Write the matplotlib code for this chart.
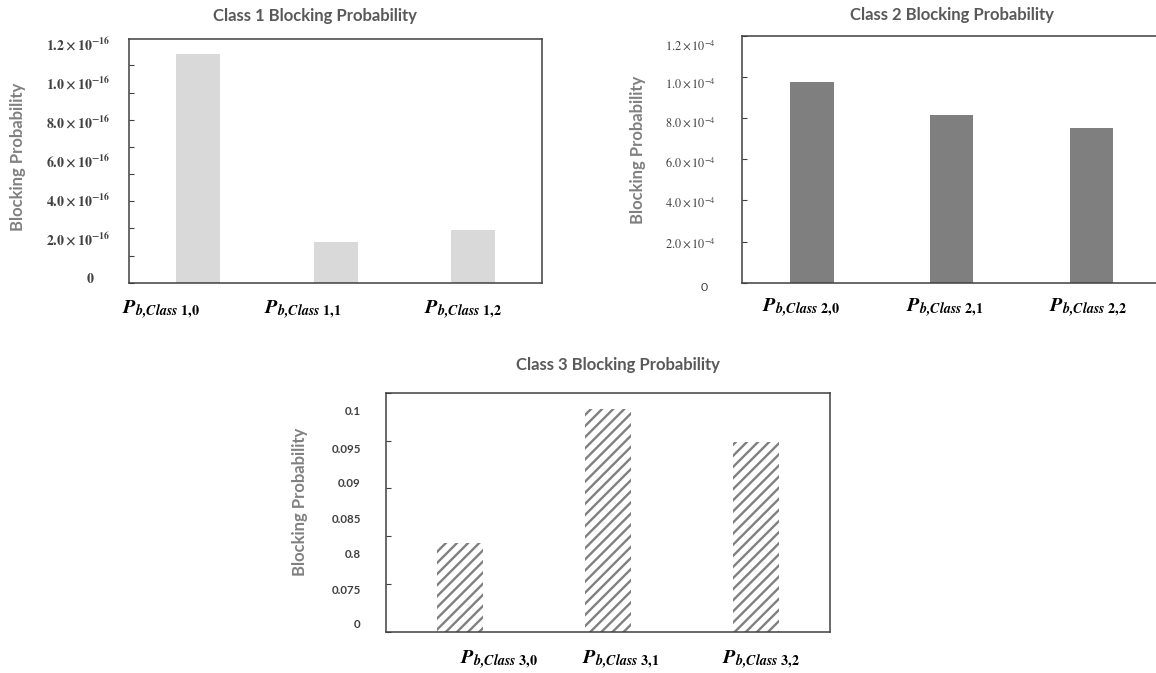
import matplotlib
matplotlib.use("Agg")
import matplotlib.pyplot as plt
import numpy as np
from matplotlib.ticker import MultipleLocator, FixedLocator
from matplotlib.transforms import blended_transform_factory, offset_copy

plt.rcParams["font.family"] = ["Lato", "DejaVu Sans"]
plt.rcParams["mathtext.fontset"] = "stix"
plt.rcParams["hatch.linewidth"] = 1.7

TITLE_GRAY = "#595959"
LABEL_GRAY = "#808080"
INK = "#404040"

# --- data -------------------------------------------------------------
class1_names = ["1,0", "1,1", "1,2"]
class1_values = [1.18e-16, 0.208e-16, 0.272e-16]
class1_label_values = [0, 0.2e-16, 0.4e-16, 0.6e-16, 0.8e-16, 1.0e-16, 1.2e-16]
class1_label_texts = [r"$\mathbf{0}$", r"$\mathbf{2.0\times10^{-16}}$", r"$\mathbf{4.0\times10^{-16}}$",
                      r"$\mathbf{6.0\times10^{-16}}$", r"$\mathbf{8.0\times10^{-16}}$",
                      r"$\mathbf{1.0\times10^{-16}}$", r"$\mathbf{1.2\times10^{-16}}$"]

class2_names = ["2,0", "2,1", "2,2"]
class2_values = [0.975e-4, 0.816e-4, 0.751e-4]
class2_label_values = [0, 0.2e-4, 0.4e-4, 0.6e-4, 0.8e-4, 1.0e-4, 1.2e-4]
class2_label_texts = ["0", r"$2.0\times10^{-4}$", r"$4.0\times10^{-4}$", r"$6.0\times10^{-4}$",
                      r"$8.0\times10^{-4}$", r"$1.0\times10^{-4}$", r"$1.2\times10^{-4}$"]

class3_names = ["3,0", "3,1", "3,2"]
class3_values = [0.0816, 0.1004, 0.0958]
class3_ylim = (0.0692, 0.1027)
class3_label_values = [0.0692, 0.075, 0.08, 0.085, 0.09, 0.095, 0.1]
class3_label_texts = ["0", "0.075", "0.8", "0.085", "0.09", "0.095", "0.1"]


def xname(pair):
    pair = pair.replace(",", "{,}")
    return r"$\mathbfit{P}_{\mathbfit{b{,}Class}\ \mathbf{" + pair + "}}$"


def draw_panel(ax, names, values, title, bar_kw, ylim, label_values, label_texts,
               label_kw, label_dy, label_gap, zero_gap, xlabel_dx, xlabel_dy,
               title_dx, title_dy, ylabel_xy):
    x = np.arange(len(values))
    ax.bar(x, values, **bar_kw)
    ax.set_xlim(-0.5, len(values) - 0.5)
    ax.set_ylim(*ylim)
    for s in ax.spines.values():
        s.set_color(INK)
        s.set_linewidth(1.1)
    ax.tick_params(axis="x", length=0, labelbottom=False)
    ax.tick_params(axis="y", direction="in", length=3.5, width=0.8, color=INK,
                   labelleft=False)

    # tick labels sit a little off the tick marks, as in the original
    ytrans = blended_transform_factory(ax.transAxes, ax.transData)
    for i, (v, t, dy) in enumerate(zip(label_values, label_texts, label_dy)):
        if i == 0:
            tr = offset_copy(ytrans, fig=ax.figure, x=-zero_gap, y=-dy, units="dots")
            ax.text(0, v, t, transform=tr, ha="center", va="center", **label_kw)
        else:
            tr = offset_copy(ytrans, fig=ax.figure, x=-label_gap, y=-dy, units="dots")
            ax.text(0, v, t, transform=tr, ha="right", va="center", **label_kw)

    xtrans = blended_transform_factory(ax.transData, ax.transAxes)
    for i, (n, dx) in enumerate(zip(names, xlabel_dx)):
        tr = offset_copy(xtrans, fig=ax.figure, x=dx, y=-xlabel_dy, units="dots")
        ax.text(i, 0, xname(n), transform=tr, ha="center", va="center",
                fontsize=14.5, color="black")

    tr = offset_copy(ax.transAxes, fig=ax.figure, x=title_dx, y=title_dy, units="dots")
    ax.text(0.5, 1, title, transform=tr, ha="center", va="center",
            fontsize=12, fontweight="bold", color=TITLE_GRAY)

    ax.set_ylabel("Blocking Probability", fontsize=12, fontweight="bold",
                  color=LABEL_GRAY, va="center")
    ax.yaxis.set_label_coords(*ylabel_xy)


fig = plt.figure(figsize=(11.56, 6.73), dpi=100)

ax1 = fig.add_axes([0.1119, 0.5799, 0.3570, 0.3622])
ax1.yaxis.set_major_locator(MultipleLocator(0.14e-16))
draw_panel(ax1, class1_names, class1_values, "Class 1 Blocking Probability",
           dict(width=0.32, color="#d9d9d9"), (0, 1.256e-16),
           class1_label_values, class1_label_texts,
           dict(fontsize=10, color=INK), [-5] * 7, 19, 39,
           [-37, -33.4, -10.2], 27.3, -20.6, 23, (-0.269, 0.516))

ax2 = fig.add_axes([0.6421, 0.5799, 0.3622, 0.3666])
ax2.yaxis.set_major_locator(MultipleLocator(0.2e-4))
draw_panel(ax2, class2_names, class2_values, "Class 2 Blocking Probability",
           dict(width=0.31, color="#7f7f7f"), (0, 1.2e-4),
           class2_label_values, class2_label_texts,
           dict(fontsize=8.8, color=INK), [5, 1.3, 1.5, 2.7, 4, 6, 9], 26, 38,
           [-11, -6.7, -3], 25.3, 0, 21, (-0.248, 0.538))

ax3 = fig.add_axes([0.3337, 0.0609, 0.3847, 0.3556])
ax3.yaxis.set_major_locator(FixedLocator(np.linspace(*class3_ylim, 6)))
draw_panel(ax3, class3_names, class3_values, "Class 3 Blocking Probability",
           dict(width=0.31, facecolor="white", edgecolor="#808080", linewidth=0,
                hatch="///"), class3_ylim,
           class3_label_values, class3_label_texts,
           dict(fontsize=8.3, fontweight="bold", color=INK), [-7.7, 0, 0, 0, 0, 1.5, 0], 25, 28.7,
           [39.5, 12.7, 4.8], 28, 10, 27.7, (-0.193, 0.5445))

fig.savefig("out.png", dpi=100)
